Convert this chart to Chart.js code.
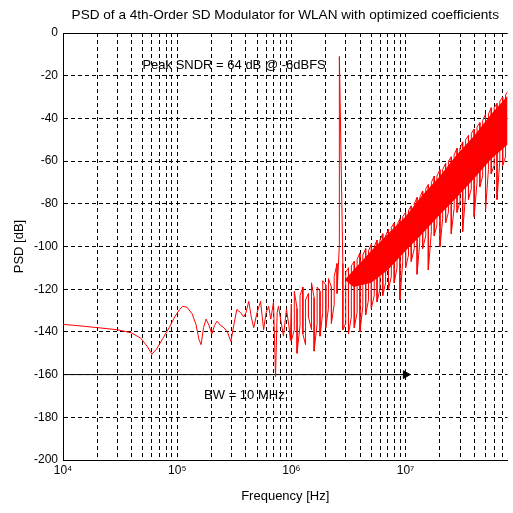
<!DOCTYPE html>
<html>
<head>
<meta charset="utf-8">
<script src="https://cdn.jsdelivr.net/npm/chart.js@4.4.1/dist/chart.umd.min.js"></script>
<style>
  html, body { margin: 0; padding: 0; background: #fff; }
</style>
</head>
<body>
<canvas id="psdChart" width="513" height="513"></canvas>
<script>
// in-band part (Hz, dB)
const lowFreq = [1.0e4, 1.3e4, 2.0e4, 3.0e4, 4.0e4, 4.8e4, 5.5e4, 6.0e4, 6.6e4, 7.5e4,
  8.5e4, 9.5e4, 1.05e5, 1.12e5, 1.22e5, 1.35e5, 1.46e5, 1.55e5, 1.62e5, 1.70e5,
  1.79e5, 1.90e5, 2.01e5, 2.12e5, 2.23e5, 2.40e5, 2.56e5, 2.75e5, 2.95e5, 3.15e5,
  3.33e5, 3.60e5, 3.83e5, 4.00e5, 4.23e5, 4.45e5, 4.68e5, 5.00e5, 5.37e5, 5.71e5,
  6.00e5, 6.31e5, 6.60e5, 6.97e5, 7.26e5, 7.50e5, 7.71e5, 8.10e5, 8.52e5, 9.05e5,
  9.50e5, 9.80e5];
const lowPsd = [-136.5, -137, -138, -139, -140.5, -143, -147, -150.5, -148, -143,
  -138, -133, -129.5, -128, -128.5, -131.5, -136.5, -143.5, -146, -138,
  -134, -137, -141, -137, -135, -137, -138, -140, -144.5, -136,
  -129.5, -131, -133, -131, -125.7, -133, -138, -131, -125.7, -139,
  -131, -128, -134, -126, -161, -131, -128, -135, -142, -129.4,
  -137, -144];

// shaped noise band: top and bottom of the red band at each frequency (MHz, dB)
const bandFreqMHz = [1.00, 1.06, 1.12, 1.19, 1.26, 1.33, 1.41, 1.50, 1.58, 1.68,
  1.78, 1.88, 2.00, 2.11, 2.24, 2.37, 2.51, 2.63, 2.82, 2.99,
  3.16, 3.35, 3.55, 3.76, 3.98, 4.22, 4.47, 4.73, 5.01, 5.31,
  5.62, 5.96, 6.31, 6.68, 7.08, 7.50, 7.94, 8.41, 8.91, 9.44,
  10.0, 10.6, 11.2, 11.9, 12.6, 13.3, 14.1, 15.0, 15.8, 16.8,
  17.8, 18.8, 20.0, 21.1, 22.4, 23.7, 25.1, 26.6, 28.2, 29.9,
  31.6, 33.5, 35.5, 37.6, 39.8, 42.2, 44.7, 47.3, 50.1, 53.1,
  56.2, 59.6, 63.1, 66.8, 70.8, 75.0, 79.4];
const bandHigh = [-127, -121, -129, -123, -119, -125, -122, -117, -124, -119,
  -121, -116, -118, -115, -119, -114, -108, -11, -108, -112,
  -110, -109, -107, -106, -103, -104, -101, -102, -99, -100,
  -97, -97, -94, -95, -92, -91, -89, -90, -87, -86,
  -84, -83, -81, -80, -77, -77, -74, -73, -71, -70,
  -67, -67, -64, -64, -61, -60, -58, -57, -54, -54,
  -51, -50, -48, -47, -45, -44, -42, -41, -38, -38,
  -35, -35, -33, -32, -30, -29, -27];
const bandLow = [-144, -139, -150, -137, -141, -146, -133, -139, -149, -136,
  -142, -131, -138, -129, -136, -127, -122, -99, -139, -136,
  -141, -133, -138, -131, -140, -128, -132, -125, -129, -123,
  -126, -120, -123, -117, -120, -114, -117, -110, -125, -107,
  -110, -104, -107, -101, -113, -98, -101, -95, -111, -93,
  -95, -90, -100, -87, -89, -84, -94, -82, -84, -79,
  -93, -76, -78, -73, -86, -70, -72, -67, -83, -64,
  -66, -62, -78, -60, -62, -58, -70];

// solid core of the noise band (MHz, dB)
const coreFreqMHz = [3.0, 3.5, 5.0, 7.0, 10, 14, 20, 28, 40, 56, 79.4];
const coreTop = [-115, -111, -102, -94, -86, -76, -67, -57, -48, -38, -29];
const coreBottom = [-116, -119, -117, -111, -102, -94, -85, -77, -68, -59, -52];

const decades = [1e4, 1e5, 1e6, 1e7];
const decadeLabels = ['10\u2074', '10\u2075', '10\u2076', '10\u2077'];

// signal bandwidth arrow
const bwFreq = [1e4, 1e7];
const bwLevel = -160;

const psdPoints = lowFreq.map((f, i) => ({ x: f, y: lowPsd[i] }));
bandFreqMHz.forEach((f, i) => {
  const pair = [{ x: f * 1e6, y: bandHigh[i] }, { x: f * 1e6, y: bandLow[i] }];
  if (i % 2) pair.reverse();
  psdPoints.push(...pair);
});

const fontFamily = '"Liberation Sans", Arial, sans-serif';
const font = { family: fontFamily, size: 12 };
const bigFont = { family: fontFamily, size: 13 };

const textPlugin = {
  id: 'psdText',
  beforeDraw(chart) {
    const { ctx, scales: { x, y } } = chart;
    ctx.save();
    ctx.fillStyle = '#000';
    ctx.font = '13px ' + fontFamily;
    ctx.textBaseline = 'middle';
    ctx.textAlign = 'left';
    ctx.fillText('Peak SNDR = 64 dB @ -6dBFS', x.getPixelForValue(4.96e4), y.getPixelForValue(-15));
    ctx.fillText('BW = 10 MHz', x.getPixelForValue(1.72e5), y.getPixelForValue(-169.6));
    ctx.restore();
  },
  afterDraw(chart) {
    const { ctx, chartArea: a } = chart;
    ctx.save();
    ctx.strokeStyle = '#000';
    ctx.lineWidth = 1;
    ctx.beginPath();
    ctx.moveTo(a.left, a.top + 0.5);
    ctx.lineTo(a.right, a.top + 0.5);
    ctx.stroke();
    // title centred over the plot area
    ctx.fillStyle = '#000';
    ctx.font = '13.6px ' + fontFamily;
    ctx.textAlign = 'center';
    ctx.textBaseline = 'middle';
    ctx.fillText('PSD of a 4th-Order SD Modulator for WLAN with optimized coefficients',
      (a.left + a.right) / 2, 15);
    ctx.restore();
  }
};

new Chart(document.getElementById('psdChart'), {
  type: 'line',
  data: {
    datasets: [
      {
        data: psdPoints,
        borderColor: '#ff0000',
        borderWidth: 1,
        pointRadius: 0,
        tension: 0,
      },
      {
        data: coreFreqMHz.map((f, i) => ({ x: f * 1e6, y: coreTop[i] })),
        borderWidth: 0,
        pointRadius: 0,
        backgroundColor: '#ff0000',
        fill: '+1',
      },
      {
        data: coreFreqMHz.map((f, i) => ({ x: f * 1e6, y: coreBottom[i] })),
        borderWidth: 0,
        pointRadius: 0,
      },
      {
        data: bwFreq.map(f => ({ x: f, y: bwLevel })),
        borderColor: '#000',
        borderWidth: 1,
        pointRadius: [0, 4.5],
        pointStyle: 'triangle',
        pointRotation: 90,
        pointBackgroundColor: '#000',
        pointBorderColor: '#000',
      },
    ],
  },
  options: {
    responsive: false,
    animation: false,
    devicePixelRatio: 1,
    layout: { padding: { top: 33 } },
    plugins: {
      legend: { display: false },
      tooltip: { enabled: false },
    },
    scales: {
      x: {
        type: 'logarithmic',
        min: 1e4,
        max: 7.8e7,
        afterFit: s => { s.height = 53; },
        afterBuildTicks: s => {
          const ticks = [];
          decades.forEach(d => {
            for (let m = 1; m <= 9; m++) {
              if (m * d <= s.max) ticks.push({ value: m * d });
            }
          });
          s.ticks = ticks;
        },
        ticks: {
          autoSkip: false,
          maxRotation: 0,
          padding: 3,
          color: '#000',
          font: font,
          callback: v => {
            const k = decades.indexOf(v);
            return k >= 0 ? decadeLabels[k] : '';
          },
        },
        grid: { color: '#000', lineWidth: 1, drawTicks: false },
        border: { display: true, color: '#000', width: 1, dash: [4, 3] },
        title: {
          display: true,
          text: 'Frequency [Hz]',
          color: '#000',
          font: bigFont,
          padding: { top: 0, bottom: 9 },
        },
      },
      y: {
        min: -200,
        max: 0,
        afterFit: s => { s.width = 63; },
        ticks: { stepSize: 20, padding: 5, color: '#000', font: font },
        grid: { color: '#000', lineWidth: 1, drawTicks: false },
        border: { display: true, color: '#000', width: 1, dash: [4, 3] },
        title: {
          display: true,
          text: 'PSD [dB]',
          color: '#000',
          font: bigFont,
          padding: { top: 12, bottom: 0 },
        },
      },
    },
  },
  plugins: [textPlugin],
});
</script>
</body>
</html>
